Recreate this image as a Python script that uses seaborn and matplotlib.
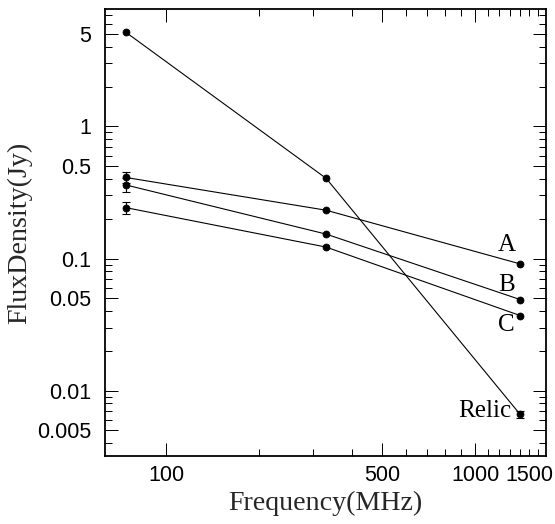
import numpy as np
import pandas as pd
import matplotlib
matplotlib.use("Agg")
import matplotlib.pyplot as plt
import matplotlib.ticker as mticker
import seaborn as sns

# ---- data ----
freq = [74, 330, 1400]
relic_flux = [5.18, 0.404, 0.0066]
relic_err = [0.0, 0.0, 0.0004]
a_flux = [0.411, 0.232, 0.091]
a_err = [0.037, 0.0, 0.0]
b_flux = [0.361, 0.153, 0.0489]
b_err = [0.043, 0.0, 0.0]
c_flux = [0.243, 0.122, 0.037]
c_err = [0.027, 0.0, 0.0]
sources = ["Relic", "A", "B", "C"]

x_major = [100, 500, 1000]
x_minor = [200, 300, 400, 600, 700, 800, 900, 1100, 1200, 1300, 1400, 1500, 1600, 1700]
x_extra_label = 1500
y_major = [0.005, 0.01, 0.05, 0.1, 0.5, 1, 5]
y_labels = ["0.005", "0.01", "0.05", "0.1", "0.5", "1", "5"]

fluxes = {"Relic": relic_flux, "A": a_flux, "B": b_flux, "C": c_flux}
errors = {"Relic": relic_err, "A": a_err, "B": b_err, "C": c_err}

rows = []
for s in sources:
    for f, v, e in zip(freq, fluxes[s], errors[s]):
        rows.append({"source": s, "freq": f, "flux": v, "err": e})
df = pd.DataFrame(rows)

sns.set_theme(style="ticks")
plt.rcParams["font.family"] = ["Liberation Sans", "DejaVu Sans"]

DPI = 72
fig = plt.figure(figsize=(555 / DPI, 524 / DPI), dpi=DPI)
ax = fig.add_axes([105 / 555, 1 - 456 / 524, (546 - 105) / 555, (456 - 9) / 524])

ax.set_xscale("log")
ax.set_yscale("log")

sns.lineplot(data=df, x="freq", y="flux", units="source", estimator=None,
             color="black", linewidth=1.1, marker="o", markersize=7,
             markeredgecolor="black", markerfacecolor="black", ax=ax,
             legend=False)

eb = df[df["err"] > 0]
ax.errorbar(eb["freq"], eb["flux"], yerr=eb["err"], fmt="none",
            ecolor="black", elinewidth=1.1, capsize=4, capthick=1.1)

ax.set_xlim(63.5, 1697)
ax.set_ylim(0.0032, 7.74)

# ticks
ax.xaxis.set_major_locator(mticker.FixedLocator(x_major))
ax.xaxis.set_major_formatter(mticker.FixedFormatter([str(v) for v in x_major]))
ax.xaxis.set_minor_locator(mticker.FixedLocator(x_minor))
ax.xaxis.set_minor_formatter(mticker.FuncFormatter(
    lambda v, p: str(x_extra_label) if abs(v - x_extra_label) < 1 else ""))

ax.yaxis.set_major_locator(mticker.FixedLocator(y_major))
ax.yaxis.set_major_formatter(mticker.FixedFormatter(y_labels))
ax.yaxis.set_minor_locator(mticker.LogLocator(base=10, subs=np.arange(2, 10), numticks=20))
ax.yaxis.set_minor_formatter(mticker.NullFormatter())

ax.tick_params(which="both", direction="in", top=True, right=True,
               labelsize=21.5, colors="black", width=1.0, pad=14)
ax.tick_params(which="major", length=13)
ax.tick_params(which="minor", length=7)
ax.tick_params(axis="x", which="both", pad=9)

for sp in ax.spines.values():
    sp.set_linewidth(1.8)
    sp.set_color("black")

ax.set_xlabel("Frequency(MHz)", family=["Liberation Serif", "DejaVu Serif"],
              fontsize=28, labelpad=5)
ax.set_ylabel("FluxDensity(Jy)", family=["Liberation Serif", "DejaVu Serif"],
              fontsize=28, labelpad=5)

# source labels next to the 1400 MHz points
label_font = dict(family=["Liberation Serif", "DejaVu Serif"], fontsize=25, color="black")
ax.annotate("A", xy=(freq[-1], a_flux[-1]), xytext=(-13, 19),
            textcoords="offset points", ha="center", va="center", **label_font)
ax.annotate("B", xy=(freq[-1], b_flux[-1]), xytext=(-14, 15),
            textcoords="offset points", ha="center", va="center", **label_font)
ax.annotate("C", xy=(freq[-1], c_flux[-1]), xytext=(-14, -9),
            textcoords="offset points", ha="center", va="center", **label_font)
ax.annotate("Relic", xy=(freq[-1], relic_flux[-1]), xytext=(-9, 3),
            textcoords="offset points", ha="right", va="center", **label_font)

fig.savefig("out.png", dpi=DPI, facecolor="white")
